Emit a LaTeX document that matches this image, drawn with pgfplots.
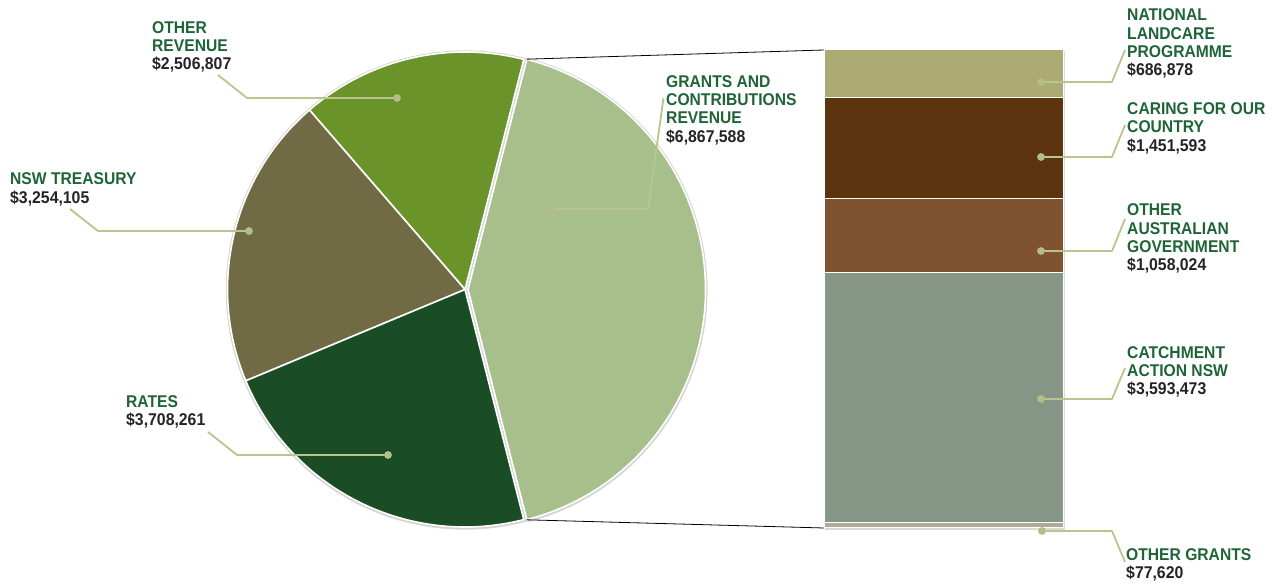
\documentclass[border=0pt]{standalone}
\usepackage{pgfplots}
\pgfplotsset{compat=1.18}
\usepackage{fontspec}
\setmainfont{Liberation Sans}
\newfontfamily\labf{Liberation Sans}[FakeStretch=0.92]
\newfontfamily\valf{Liberation Sans}[FakeStretch=0.93]
\definecolor{cGrants}{HTML}{A7BF8A}
\definecolor{cOther}{HTML}{6A9329}
\definecolor{cNSW}{HTML}{716B45}
\definecolor{cRates}{HTML}{1A4D25}
\definecolor{cNat}{HTML}{ABAB73}
\definecolor{cCar}{HTML}{5C3410}
\definecolor{cAus}{HTML}{7F5230}
\definecolor{cCat}{HTML}{859687}
\definecolor{cOG}{HTML}{ADAB94}
\definecolor{cLab}{HTML}{1E6437}
\definecolor{cVal}{HTML}{262324}
\definecolor{cLead}{HTML}{BAC48E}
\definecolor{cDot}{HTML}{B3BD85}
% pie data
\def\vGrants{6867588}
\def\vOther{2506807}
\def\vNSW{3254105}
\def\vRates{3708261}
\edef\tot{\fpeval{\vGrants+\vOther+\vNSW+\vRates}}
\edef\aA{\fpeval{round(180*\vGrants/\tot,4)}}
\edef\aB{\fpeval{round(\aA+360*\vOther/\tot,4)}}
\edef\aC{\fpeval{round(\aB+360*\vNSW/\tot,4)}}
\edef\aD{\fpeval{round(360-\aA,4)}}
\newcommand\lab[3]{\node[anchor=base west,inner sep=0pt,text=cLab,font=\labf\bfseries\fontsize{17}{18}\selectfont] at (axis cs:#1,#2) {#3};}
\newcommand\val[3]{\node[anchor=base west,inner sep=0pt,text=cVal,font=\valf\bfseries\fontsize{17}{18}\selectfont] at (axis cs:#1,#2) {#3};}
\newcommand\lead[4]{\draw[cLead,line width=1.8pt,line join=round] #1 -- #2 -- #3; \fill[cDot] #4 circle[radius=3.9pt];}
\newcommand\slices[1]{%
\path[#1,fill=cOther] (axis cs:465,296.5) -- +(\aA:237.5pt) arc[start angle=\aA,end angle=\aB,radius=237.5pt] -- cycle;
\path[#1,fill=cNSW] (axis cs:465,296.5) -- +(\aB:237.5pt) arc[start angle=\aB,end angle=\aC,radius=237.5pt] -- cycle;
\path[#1,fill=cRates] (axis cs:465,296.5) -- +(\aC:237.5pt) arc[start angle=\aC,end angle=\aD,radius=237.5pt] -- cycle;
\path[#1,fill=cGrants] (axis cs:468,296.5) -- +(-\aA:237.5pt) arc[start angle=-\aA,end angle=\aA,radius=237.5pt] -- cycle;}
\begin{document}
\begin{tikzpicture}
\begin{axis}[at={(0,0)},anchor=south west,width=1274pt,height=586pt,scale only axis,
  xmin=0,xmax=1274,ymin=0,ymax=586,hide axis,clip=false]
% pie shadow
\fill[gray!30] (axis cs:465,295.3) circle[radius=239pt];
\fill[gray!30] (axis cs:468.5,295.3) ++(-\aA:239pt) arc[start angle=-\aA,end angle=\aA,radius=239pt] -- (axis cs:468.5,295.3) -- cycle;
% slices: grey edge pass then white border pass
\slices{draw=gray!35,line width=3.2pt,line join=round}
\slices{draw=white,line width=1.6pt,line join=round}
% connector lines
\draw[black,line width=0.8pt] (axis cs:526.5,526.8) -- (axis cs:824,536);
\draw[black,line width=0.8pt] (axis cs:526.5,66.2) -- (axis cs:824,58);
% bar shadow
\fill[gray!30] (axis cs:825,55.5) rectangle (axis cs:1065,535);
% pie labels
\lab{152}{552}{OTHER}
\lab{152}{534}{REVENUE}
\val{152}{516}{\$2,506,807}
\lab{666}{498.7}{GRANTS AND}
\lab{666}{480.3}{CONTRIBUTIONS}
\lab{666}{462}{REVENUE}
\val{666}{443.5}{\$6,867,588}
\lab{10}{401}{NSW TREASURY}
\val{10}{382.7}{\$3,254,105}
\lab{126}{178.7}{RATES}
\val{126}{160}{\$3,708,261}
% bar labels
\lab{1127}{565}{NATIONAL}
\lab{1127}{546.7}{LANDCARE}
\lab{1127}{528.4}{PROGRAMME}
\val{1127}{510}{\$686,878}
\lab{1127}{471}{CARING FOR OUR}
\lab{1127}{453}{COUNTRY}
\val{1127}{434.5}{\$1,451,593}
\lab{1127}{370}{OTHER}
\lab{1127}{351.7}{AUSTRALIAN}
\lab{1127}{333.4}{GOVERNMENT}
\val{1127}{315}{\$1,058,024}
\lab{1127}{227.7}{CATCHMENT}
\lab{1127}{209.4}{ACTION NSW}
\val{1127}{191}{\$3,593,473}
\lab{1126}{25.3}{OTHER GRANTS}
\val{1126}{7.5}{\$77,620}
\end{axis}
\begin{axis}[at={(824pt,58pt)},anchor=south west,width=239pt,height=478pt,scale only axis,
  xmin=-0.5,xmax=0.5,ymin=0,ymax=6867588,hide axis,clip=false,
  ybar stacked,bar width=239pt]
\addplot[fill=cOG,draw=white,line width=1pt] coordinates {(0,77620)};
\addplot[fill=cCat,draw=white,line width=1pt] coordinates {(0,3593473)};
\addplot[fill=cAus,draw=white,line width=1pt] coordinates {(0,1058024)};
\addplot[fill=cCar,draw=white,line width=1pt] coordinates {(0,1451593)};
\addplot[fill=cNat,draw=white,line width=1pt] coordinates {(0,686878)};
\end{axis}
\begin{axis}[at={(0,0)},anchor=south west,width=1274pt,height=586pt,scale only axis,
  xmin=0,xmax=1274,ymin=0,ymax=586,hide axis,clip=false]
% leader lines
\lead{(axis cs:218,511)}{(axis cs:247,488)}{(axis cs:397,488)}{(axis cs:397,488)}
\lead{(axis cs:663.5,488)}{(axis cs:648,377)}{(axis cs:551,377)}{(axis cs:551,377)}
\lead{(axis cs:70,377)}{(axis cs:98,355)}{(axis cs:249,355)}{(axis cs:249,355)}
\lead{(axis cs:208,154)}{(axis cs:237,131)}{(axis cs:388,131)}{(axis cs:388,131)}
\lead{(axis cs:1041,504)}{(axis cs:1112,504)}{(axis cs:1125,536)}{(axis cs:1041,504)}
\lead{(axis cs:1041,429)}{(axis cs:1112,429)}{(axis cs:1125,461)}{(axis cs:1041,429)}
\lead{(axis cs:1041,335)}{(axis cs:1112,335)}{(axis cs:1125,367)}{(axis cs:1041,335)}
\lead{(axis cs:1041,187)}{(axis cs:1112,187)}{(axis cs:1125,218)}{(axis cs:1041,187)}
\lead{(axis cs:1042,55)}{(axis cs:1112,55)}{(axis cs:1125,24)}{(axis cs:1042,55)}
\end{axis}
\pgfresetboundingbox
\path (0,0) rectangle (1274pt,586pt);
\end{tikzpicture}
\end{document}
